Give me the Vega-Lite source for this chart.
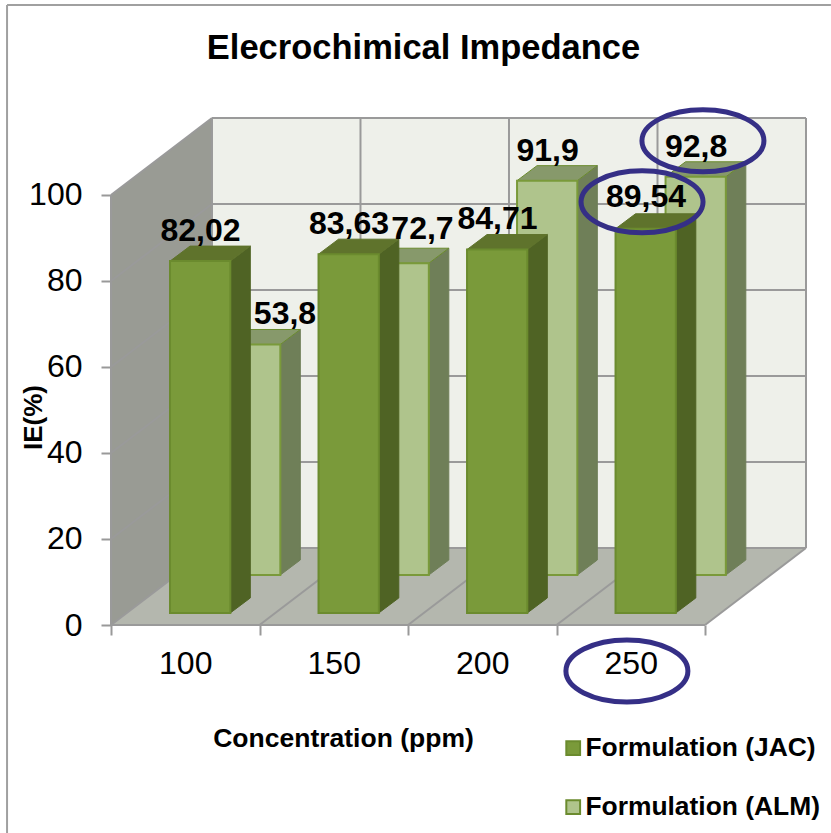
{
"$schema":"https://vega.github.io/schema/vega-lite/v6.json",
"width":695,"height":507,"autosize":"none",
"padding":{"left":111,"top":118,"right":25,"bottom":208},
"background":"white",
"config":{"view":{"stroke":null},"font":"Liberation Sans"},
"title":{"text":"Elecrochimical Impedance","frame":"group","anchor":"middle","dx":-35,"offset":-63,"fontSize":34.5,"fontWeight":"bold","font":"Liberation Sans","color":"#000000"},
"datasets":{"bars":[
{"conc":100,"series":"Formulation (JAC)","value":82.02},
{"conc":150,"series":"Formulation (JAC)","value":83.63},
{"conc":200,"series":"Formulation (JAC)","value":84.71},
{"conc":250,"series":"Formulation (JAC)","value":89.54},
{"conc":100,"series":"Formulation (ALM)","value":53.8},
{"conc":150,"series":"Formulation (ALM)","value":72.7},
{"conc":200,"series":"Formulation (ALM)","value":91.9},
{"conc":250,"series":"Formulation (ALM)","value":92.8}
]},
"encoding":{
"x":{"field":"cx","type":"quantitative","scale":{"domain":[75,309],"nice":false,"zero":false},
 "axis":{"title":"Concentration (ppm)","values":[75,100,125,150,175,200,225,250,275],"labelExpr":"datum.value%50==0?datum.value:''","tickOpacity":{"condition":{"test":"datum.value%50==0","value":0},"value":1},"grid":false,"domain":false,"tickColor":"#999999","tickWidth":2,"tickSize":10,"labelFontSize":32,"labelColor":"#000000","labelPadding":13,"labelFont":"Liberation Sans","labelOverlap":false,"labelFlush":false,"titleFontSize":26.5,"titleFontWeight":"bold","titleColor":"#000000","titleFont":"Liberation Sans","titleX":232,"titleY":113,"titleBaseline":"middle","titleAnchor":"middle"}},
"y":{"field":"vy","type":"quantitative","scale":{"domain":[0,117.9],"nice":false,"zero":false},
 "axis":{"title":"IE(%)","values":[0,20,40,60,80,100],"grid":false,"domain":false,"tickColor":"#999999","tickWidth":2,"tickSize":10,"labelFontSize":32,"labelColor":"#000000","labelPadding":19,"labelFont":"Liberation Sans","titleFontSize":26,"titleFontWeight":"bold","titleColor":"#000000","titleFont":"Liberation Sans","titleX":-78,"titleY":299,"titleBaseline":"middle","titleAnchor":"middle"}}
},
"layer":[
{"data":{"values":[{"cx":109,"cx2":309,"vy":17.9,"vy2":117.9}]},"mark":{"type":"rect","fill":"#EEF0EA"},"encoding":{"x2":{"field":"cx2"},"y2":{"field":"vy2"}}},
{"data":{"values":[{"cx":75,"vy":0,"vy2":100},{"cx":109,"vy":17.9,"vy2":117.9}]},"mark":{"type":"area","fill":"#999B94"},"encoding":{"y2":{"field":"vy2"}}},
{"data":{"values":[{"cx":75,"cx2":275,"vy":0},{"cx":109,"cx2":309,"vy":17.9}]},"mark":{"type":"area","orient":"horizontal","fill":"#B4B7AE"},"encoding":{"x2":{"field":"cx2"}}},
{"data":{"values":[
{"cx":75,"vy":20,"cx2":109,"vy2":37.9},{"cx":75,"vy":40,"cx2":109,"vy2":57.9},{"cx":75,"vy":60,"cx2":109,"vy2":77.9},{"cx":75,"vy":80,"cx2":109,"vy2":97.9},{"cx":75,"vy":100,"cx2":109,"vy2":117.9},
{"cx":109,"vy":17.9,"cx2":309,"vy2":17.9},{"cx":109,"vy":37.9,"cx2":309,"vy2":37.9},{"cx":109,"vy":57.9,"cx2":309,"vy2":57.9},{"cx":109,"vy":77.9,"cx2":309,"vy2":77.9},{"cx":109,"vy":97.9,"cx2":309,"vy2":97.9},{"cx":109,"vy":117.9,"cx2":309,"vy2":117.9},
{"cx":109,"vy":17.9,"cx2":109,"vy2":117.9},{"cx":159,"vy":17.9,"cx2":159,"vy2":117.9},{"cx":209,"vy":17.9,"cx2":209,"vy2":117.9},{"cx":259,"vy":17.9,"cx2":259,"vy2":117.9},{"cx":309,"vy":17.9,"cx2":309,"vy2":117.9},
{"cx":75,"vy":0,"cx2":109,"vy2":17.9},{"cx":125,"vy":0,"cx2":159,"vy2":17.9},{"cx":175,"vy":0,"cx2":209,"vy2":17.9},{"cx":225,"vy":0,"cx2":259,"vy2":17.9},{"cx":275,"vy":0,"cx2":309,"vy2":17.9},
{"cx":75,"vy":0,"cx2":75,"vy2":100},{"cx":75,"vy":0,"cx2":275,"vy2":0}
]},"mark":{"type":"rule","stroke":"#9A9A9A","strokeWidth":2},"encoding":{"x2":{"field":"cx2"},"y2":{"field":"vy2"}}},
{"data":{"values":[{"cx":40,"vy":144.2,"cx2":40,"vy2":-48.4},{"cx":40,"vy":144.2,"cx2":317.4,"vy2":144.2}]},"mark":{"type":"rule","stroke":"#A0A0A0","strokeWidth":2},"encoding":{"x2":{"field":"cx2"},"y2":{"field":"vy2"}}},

{"data":{"name":"bars"},"transform":[{"filter":"datum.series=='Formulation (ALM)'"},{"calculate":"[0,1]","as":"t"},{"flatten":["t"]},
 {"calculate":"datum.conc-25+36.71+20.3+datum.t*6.73","as":"cx"},{"calculate":"11.63+datum.t*3.49","as":"vy"},{"calculate":"11.43+datum.value+datum.t*3.49","as":"vy2"}],
 "mark":{"type":"area","fill":"#6F7F58","stroke":"#6F7F58","strokeWidth":1},"encoding":{"y2":{"field":"vy2"},"detail":{"field":"conc"}}},
{"data":{"name":"bars"},"transform":[{"filter":"datum.series=='Formulation (ALM)'"},{"calculate":"[0,1]","as":"t"},{"flatten":["t"]},
 {"calculate":"datum.conc-25+36.71+datum.t*6.73","as":"cx"},{"calculate":"datum.conc-25+36.71+20.3+datum.t*6.73","as":"cx2"},{"calculate":"11.43+datum.value+datum.t*3.49","as":"vy"}],
 "mark":{"type":"area","orient":"horizontal","fill":"#87996B","stroke":"#6B8B2E","strokeWidth":1},"encoding":{"x2":{"field":"cx2"},"detail":{"field":"conc"}}},
{"data":{"name":"bars"},"transform":[{"filter":"datum.series=='Formulation (ALM)'"},
 {"calculate":"datum.conc-25+36.71","as":"cx"},{"calculate":"datum.cx+20.3","as":"cx2"},{"calculate":"11.63","as":"vy"},{"calculate":"11.43+datum.value","as":"vy2"}],
 "mark":{"type":"rect","stroke":"#7A9A3A","strokeWidth":2},"encoding":{"x2":{"field":"cx2"},"y2":{"field":"vy2"},
  "color":{"field":"series","type":"nominal","scale":{"domain":["Formulation (JAC)","Formulation (ALM)"],"range":["#7A9A3A","#AFC48C"]},
   "legend":{"title":null,"orient":"none","legendX":449,"legendY":617,"symbolType":"square","symbolSize":190,"symbolStrokeColor":"#6B8B2E","symbolStrokeWidth":2,"labelFontSize":26.4,"labelFontWeight":"bold","labelColor":"#000000","labelFont":"Liberation Sans","rowPadding":32,"labelOffset":-1,"labelLimit":300,"labelExpr":"datum.value=='Formulation (JAC)'?'\u00a0Formulation (JAC)':datum.value"}}}},

{"data":{"name":"bars"},"transform":[{"filter":"datum.series=='Formulation (JAC)'"},{"calculate":"[0,1]","as":"t"},{"flatten":["t"]},
 {"calculate":"datum.conc-25+19.87+20.3+datum.t*6.73","as":"cx"},{"calculate":"2.8+datum.t*3.49","as":"vy"},{"calculate":"2.6+datum.value+datum.t*3.49","as":"vy2"}],
 "mark":{"type":"area","fill":"#4F6324","stroke":"#4F6324","strokeWidth":1},"encoding":{"y2":{"field":"vy2"},"detail":{"field":"conc"}}},
{"data":{"name":"bars"},"transform":[{"filter":"datum.series=='Formulation (JAC)'"},{"calculate":"[0,1]","as":"t"},{"flatten":["t"]},
 {"calculate":"datum.conc-25+19.87+datum.t*6.73","as":"cx"},{"calculate":"datum.conc-25+19.87+20.3+datum.t*6.73","as":"cx2"},{"calculate":"2.6+datum.value+datum.t*3.49","as":"vy"}],
 "mark":{"type":"area","orient":"horizontal","fill":"#5F732C","stroke":"#5F732C","strokeWidth":1},"encoding":{"x2":{"field":"cx2"},"detail":{"field":"conc"}}},
{"data":{"name":"bars"},"transform":[{"filter":"datum.series=='Formulation (JAC)'"},
 {"calculate":"datum.conc-25+19.87","as":"cx"},{"calculate":"datum.cx+20.3","as":"cx2"},{"calculate":"2.8","as":"vy"},{"calculate":"2.6+datum.value","as":"vy2"}],
 "mark":{"type":"rect","stroke":"#6B8B2E","strokeWidth":2},"encoding":{"x2":{"field":"cx2"},"y2":{"field":"vy2"},
  "color":{"field":"series","type":"nominal","scale":{"domain":["Formulation (JAC)","Formulation (ALM)"],"range":["#7A9A3A","#AFC48C"]},
   "legend":{"title":null,"orient":"none","legendX":449,"legendY":617,"symbolType":"square","symbolSize":190,"symbolStrokeColor":"#6B8B2E","symbolStrokeWidth":2,"labelFontSize":26.4,"labelFontWeight":"bold","labelColor":"#000000","labelFont":"Liberation Sans","rowPadding":32,"labelOffset":-1,"labelLimit":300,"labelExpr":"datum.value=='Formulation (JAC)'?'\u00a0Formulation (JAC)':datum.value"}}}},

{"data":{"name":"bars"},"transform":[
 {"calculate":"datum.series=='Formulation (JAC)'","as":"isJ"},
 {"calculate":"datum.conc-25+(datum.isJ?19.87:36.71)+10.27+(datum.isJ?0:(datum.conc==100?11.6:(datum.conc==150?7.9:0)))","as":"cx"},
 {"calculate":"(datum.isJ?2.8:11.63)+datum.value+(datum.conc==250&&datum.isJ?7.2:(datum.conc==150&&!datum.isJ?7.8:6.8))","as":"vy"},
 {"calculate":"replace(toString(datum.value),'.',',')","as":"lab"}],
 "mark":{"type":"text","fontSize":32,"fontWeight":"bold","font":"Liberation Sans","color":"#000000","baseline":"middle","align":"center"},
 "encoding":{"text":{"field":"lab"}}},

{"data":{"values":[{"cx":274.3,"vy":112.6},{"cx":253.8,"vy":98.4},{"cx":248.7,"vy":-10.7}]},
 "mark":{"type":"point","shape":"M-1,0A1,0.508 0 1,1 1,0A1,0.508 0 1,1 -1,0Z","filled":false,"size":14884,"stroke":"#352F86","strokeWidth":5,"opacity":1},"encoding":{}}
]
}
